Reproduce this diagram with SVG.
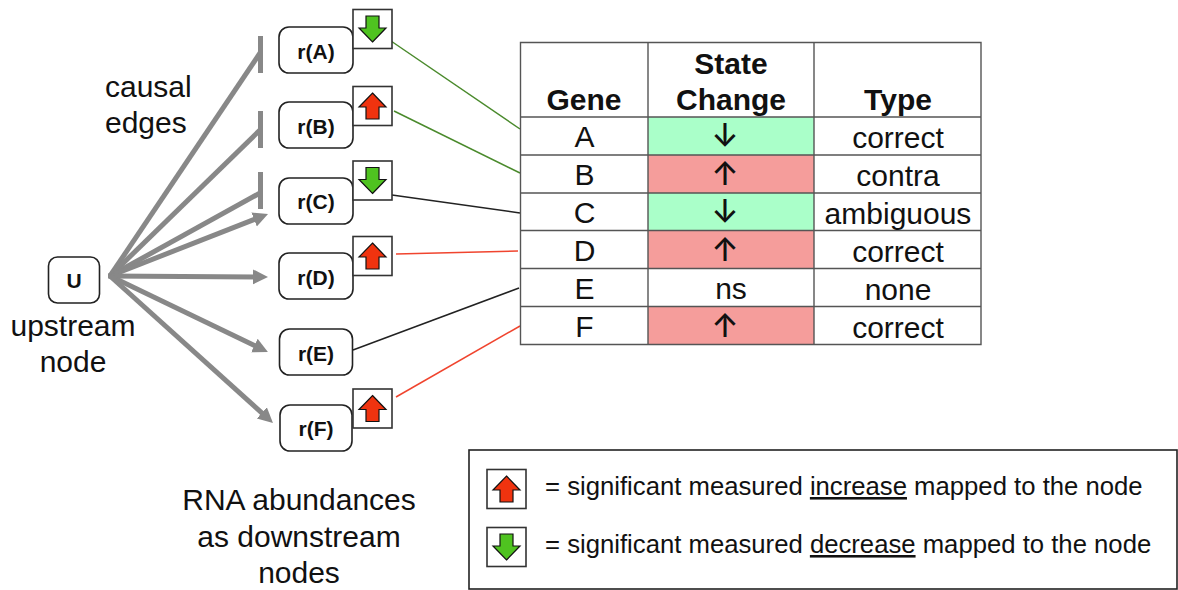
<svg xmlns="http://www.w3.org/2000/svg" width="1178" height="590" viewBox="0 0 1178 590">
<style>
text{font-family:"Liberation Sans",Arial,sans-serif;fill:#111}
.cap{font-size:30px}
.mid{text-anchor:middle}
.b{font-weight:bold}
.nl{font-size:21px;font-weight:bold;text-anchor:middle}
.node{fill:#fff;stroke:#222;stroke-width:1.6}
.badge{fill:#fff;stroke:#333;stroke-width:1.6}
.edge{fill:none;stroke:#888;stroke-width:5}
.tbar{fill:none;stroke:#888;stroke-width:5}
.link{fill:none;stroke-width:1.5}
.grid{fill:none;stroke:#555;stroke-width:1.4}
.leg{font-size:25.7px}
.ar{font-family:Inter,"DejaVu Sans",sans-serif;font-size:32px;font-weight:500;text-anchor:middle}
</style>
<defs>
<marker id="head" markerUnits="userSpaceOnUse" markerWidth="18" markerHeight="18" refX="4" refY="9" orient="auto"><path d="M0,1.5 L15,9 L0,16.5 Z" fill="#888"/></marker>
<path id="up" d="M0,-13 L13.5,1 L6.5,1 L6.5,13 L-6.5,13 L-6.5,1 L-13.5,1 Z" fill="#f0330f" stroke="#111" stroke-width="1.2"/>
<path id="down" d="M0,13 L13.5,-1 L6.5,-1 L6.5,-13 L-6.5,-13 L-6.5,-1 L-13.5,-1 Z" fill="#4fc320" stroke="#111" stroke-width="1.2"/>
</defs>
<g id="connectors">
<path class="edge" d="M110,276 L260,53"/>
<path class="edge" d="M110,276 L260,130"/>
<path class="edge" d="M110,276 L260,193"/>
<path class="edge" d="M110,276 L257.8,218" marker-end="url(#head)"/>
<path class="edge" d="M108,276 L257,276.9" marker-end="url(#head)"/>
<path class="edge" d="M110,276 L258,347.3" marker-end="url(#head)"/>
<path class="edge" d="M110,276 L264.8,415.6" marker-end="url(#head)"/>
<path class="tbar" d="M260.5,36 V73"/>
<path class="tbar" d="M260.5,111 V148"/>
<path class="tbar" d="M260.5,172 V209"/>
<path class="link" stroke="#4a8a2c" d="M391,41 L520,129"/>
<path class="link" stroke="#4a8a2c" d="M394,111 L520,173"/>
<path class="link" stroke="#222" d="M392,195 L520,213"/>
<path class="link" stroke="#f0442e" d="M396,254 L518,251"/>
<path class="link" stroke="#222" d="M353,350 L519,288"/>
<path class="link" stroke="#f0442e" d="M396,397 L520,326"/>
</g>
<g id="node-U"><rect class="node" x="48.5" y="257" width="51" height="46" rx="9"/><text class="nl" x="74" y="288">U</text></g>
<g id="node-A"><rect class="node" x="279" y="27" width="74" height="46" rx="10"/><text class="nl" x="316" y="59">r(A)</text></g>
<g id="node-B"><rect class="node" x="279" y="102" width="74" height="46" rx="10"/><text class="nl" x="316" y="134">r(B)</text></g>
<g id="node-C"><rect class="node" x="279" y="178" width="74" height="46" rx="10"/><text class="nl" x="316" y="209">r(C)</text></g>
<g id="node-D"><rect class="node" x="279" y="253" width="74" height="46" rx="10"/><text class="nl" x="316" y="285">r(D)</text></g>
<g id="node-E"><rect class="node" x="279.5" y="329" width="73" height="46" rx="10"/><text class="nl" x="316" y="361">r(E)</text></g>
<g id="node-F"><rect class="node" x="280" y="405" width="72" height="46" rx="10"/><text class="nl" x="316" y="436">r(F)</text></g>
<g id="badge-A"><rect class="badge" x="353" y="9.5" width="39" height="39"/><use href="#down" x="372.5" y="29"/></g>
<g id="badge-B"><rect class="badge" x="353" y="86.5" width="39" height="39"/><use href="#up" x="372.5" y="106"/></g>
<g id="badge-C"><rect class="badge" x="353" y="161" width="39" height="39"/><use href="#down" x="372.5" y="180.5"/></g>
<g id="badge-D"><rect class="badge" x="353" y="236.5" width="39" height="39"/><use href="#up" x="372.5" y="256"/></g>
<g id="badge-F"><rect class="badge" x="353" y="389" width="39" height="39"/><use href="#up" x="372.5" y="408.5"/></g>
<g id="captions">
<text class="cap" x="105" y="97">causal</text>
<text class="cap" x="105" y="133">edges</text>
<text class="cap mid" x="73" y="336">upstream</text>
<text class="cap mid" x="73" y="372">node</text>
<text class="cap mid" x="299" y="510">RNA abundances</text>
<text class="cap mid" x="299" y="547">as downstream</text>
<text class="cap mid" x="299" y="583">nodes</text>
</g>
<g id="table">
<rect x="648" y="117" width="166" height="38" fill="#aaffc9"/>
<rect x="648" y="155" width="166" height="38" fill="#f59d9b"/>
<rect x="648" y="193" width="166" height="38" fill="#aaffc9"/>
<rect x="648" y="231" width="166" height="38" fill="#f59d9b"/>
<rect x="648" y="307" width="166" height="38" fill="#f59d9b"/>
<path class="grid" d="M520.5,42.5 H981 V344.5 H520.5 Z M648,42.5 V344.5 M814,42.5 V344.5 M520.5,117 H981 M520.5,155 H981 M520.5,193 H981 M520.5,230.5 H981 M520.5,268.5 H981 M520.5,306.5 H981"/>
<text class="cap b mid" x="584" y="110">Gene</text>
<text class="cap b mid" x="731" y="74">State</text>
<text class="cap b mid" x="731" y="110">Change</text>
<text class="cap b mid" x="898" y="110">Type</text>
<text class="cap mid" x="584.5" y="147">A</text>
<text class="cap mid" x="584.5" y="185">B</text>
<text class="cap mid" x="584.5" y="223">C</text>
<text class="cap mid" x="584.5" y="261">D</text>
<text class="cap mid" x="584.5" y="299">E</text>
<text class="cap mid" x="584.5" y="337">F</text>
<text class="ar" x="725" y="147">↓</text>
<text class="ar" x="725" y="185">↑</text>
<text class="ar" x="725" y="223">↓</text>
<text class="ar" x="725" y="261">↑</text>
<text class="cap mid" x="731" y="299">ns</text>
<text class="ar" x="725" y="337">↑</text>
<text class="cap mid" x="898" y="148">correct</text>
<text class="cap mid" x="898" y="186">contra</text>
<text class="cap mid" x="898" y="224">ambiguous</text>
<text class="cap mid" x="898" y="262">correct</text>
<text class="cap mid" x="898" y="300">none</text>
<text class="cap mid" x="898" y="338">correct</text>
</g>
<g id="legend">
<rect x="469" y="450" width="708" height="139" fill="#fff" stroke="#222" stroke-width="1.6"/>
<rect class="badge" x="487" y="469.5" width="39" height="39"/><use href="#up" x="506.5" y="489"/>
<rect class="badge" x="487" y="527.5" width="39" height="39"/><use href="#down" x="506.5" y="547"/>
<text class="leg" x="545" y="495">= significant measured <tspan text-decoration="underline">increase</tspan> mapped to the node</text>
<text class="leg" x="545" y="553">= significant measured <tspan text-decoration="underline">decrease</tspan> mapped to the node</text>
</g>
</svg>
